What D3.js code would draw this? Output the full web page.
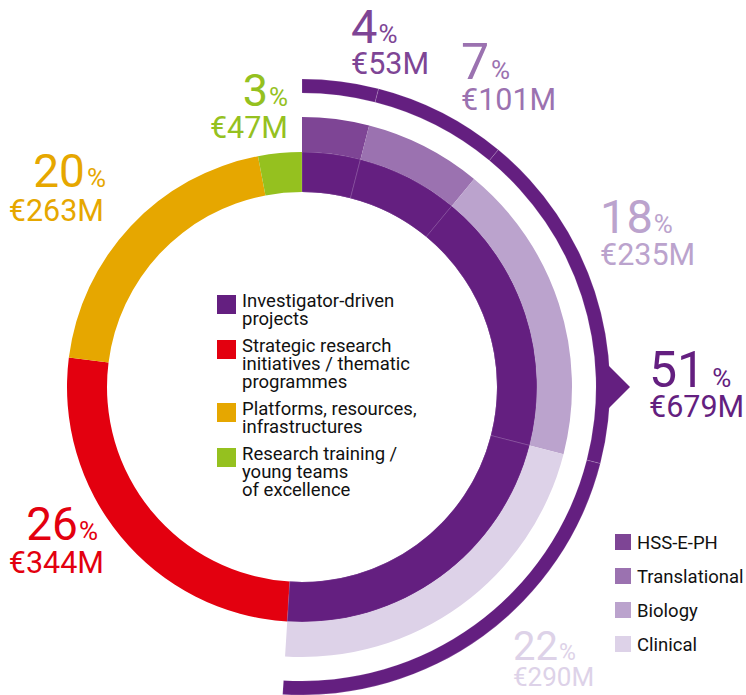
<!DOCTYPE html>
<html>
<head>
<meta charset="utf-8">
<script src="https://cdn.jsdelivr.net/npm/d3@7"></script>
<style>
  body { margin: 0; background: #fff; }
  svg { display: block; font-family: Roboto, "Noto Sans", sans-serif; }
</style>
</head>
<body>
<div id="chart-area"></div>
<script>
// main funding lines (inner ring)
var mainCategories = ["Investigator-driven projects", "Strategic research initiatives / thematic programmes",
  "Platforms, resources, infrastructures", "Research training / young teams of excellence"];
var mainLegendLines = [["Investigator-driven", "projects"], ["Strategic research", "initiatives / thematic", "programmes"],
  ["Platforms, resources,", "infrastructures"], ["Research training /", "young teams", "of excellence"]];
var mainPct = [51, 26, 20, 3];
var mainAmount = [679, 344, 263, 47];

// split of investigator-driven projects (middle ring)
var subCategories = ["HSS-E-PH", "Translational", "Biology", "Clinical"];
var subPct = [4, 7, 18, 22];
var subAmount = [53, 101, 235, 290];

var mainColors = ["#641f80", "#e3000f", "#e6a700", "#95c11f"];
var subColors = ["#7e4595", "#9b72b0", "#bba3cd", "#ddd2e8"];

//svg area
var svg_x = 746, svg_y = 695;
var cx = 302, cy = 387;

var svg = d3.select("#chart-area").append("svg")
  .attr("width", svg_x)
  .attr("height", svg_y);

var g = svg.append("g")
  .attr("transform", "translate(" + cx + "," + cy + ")");

//pies
var mainPie = d3.pie().sort(null).value(d => d);
var mainArcs = mainPie(mainPct);
var purpleEnd = mainArcs[0].endAngle;
var subPie = d3.pie().sort(null).value(d => d)
  .startAngle(0).endAngle(purpleEnd);
var subArcs = subPie(subPct);

var innerArc = d3.arc().innerRadius(195).outerRadius(235);
var middleArc = d3.arc().innerRadius(235).outerRadius(270);
var bracketArc = d3.arc().innerRadius(294).outerRadius(308);

//inner ring
g.selectAll(".main")
  .data(mainArcs)
  .enter().append("path")
    .attr("class", "main")
    .attr("d", innerArc)
    .attr("fill", (d, i) => mainColors[i]);

//faint dividers in the purple part of the inner ring
g.selectAll(".innerSub")
  .data(subArcs)
  .enter().append("path")
    .attr("class", "innerSub")
    .attr("d", innerArc)
    .attr("fill", mainColors[0])
    .attr("stroke", "rgba(255,255,255,0.25)")
    .attr("stroke-width", 0.6);

//middle ring
g.selectAll(".sub")
  .data(subArcs)
  .enter().append("path")
    .attr("class", "sub")
    .attr("d", middleArc)
    .attr("fill", (d, i) => subColors[i]);

//outer bracket with arrow
g.selectAll(".bracket")
  .data(subArcs)
  .enter().append("path")
    .attr("class", "bracket")
    .attr("d", bracketArc)
    .attr("fill", mainColors[0])
    .attr("stroke", "rgba(255,255,255,0.25)")
    .attr("stroke-width", 0.6);

var arrowR = 307;
g.append("path")
  .attr("d", "M" + (arrowR - 2) + ",-23 L" + (arrowR + 21) + ",0 L" + (arrowR - 2) + ",23 Z")
  .attr("fill", mainColors[0]);

//value labels
function pctLabel(o) {
  var t = svg.append("text")
    .attr("x", o.x)
    .attr("y", o.y)
    .attr("text-anchor", o.anchor)
    .attr("fill", o.color)
    .attr("font-size", o.big);
  t.append("tspan").text(o.pct);
  t.append("tspan").attr("dx", o.gap).attr("font-size", o.small).text("%");
  svg.append("text")
    .attr("x", o.x2 != null ? o.x2 : o.x)
    .attr("y", o.y2)
    .attr("text-anchor", o.anchor)
    .attr("fill", o.color)
    .attr("font-size", o.money)
    .text("€" + o.amount + "M");
}

var subLabelPos = [
  {x: 351, y: 43, y2: 74, big: 47, small: 26, money: 30.5, gap: 1},
  {x: 461, y: 79, y2: 110, big: 50, small: 26, money: 30.5, gap: 2},
  {x: 600, y: 233, y2: 265, big: 47, small: 26, money: 30.5, gap: 1},
  {x: 513, y: 660, y2: 686, big: 40, small: 23, money: 26, gap: 1}
];
subLabelPos.forEach((p, i) => {
  pctLabel(Object.assign({anchor: "start", color: subColors[i], pct: subPct[i], amount: subAmount[i]}, p));
});

var mainLabelPos = [
  {anchor: "start", x: 649, y: 387, y2: 417, big: 50, small: 26, money: 30.5, gap: 7},
  {anchor: "end", x: 98, x2: 104, y: 540, y2: 573, big: 46, small: 26, money: 30.5, gap: 1},
  {anchor: "end", x: 106, x2: 104, y: 187, y2: 221, big: 46, small: 26, money: 30.5, gap: 2},
  {anchor: "end", x: 288, y: 106, y2: 138, big: 45, small: 26, money: 30.5, gap: 1}
];
mainLabelPos.forEach((p, i) => {
  pctLabel(Object.assign({color: mainColors[i], pct: mainPct[i], amount: mainAmount[i]}, p));
});

//legend in the middle
var lineH = 18, itemGap = 9;
var ly = 307;
var legend = svg.append("g");
mainLegendLines.forEach((lines, i) => {
  legend.append("rect")
    .attr("x", 217)
    .attr("y", ly - 12)
    .attr("width", 19)
    .attr("height", 19)
    .attr("fill", mainColors[i]);
  var t = legend.append("text")
    .attr("x", 242)
    .attr("y", ly)
    .attr("font-size", 18.5)
    .attr("fill", "#111");
  lines.forEach((l, j) => {
    t.append("tspan").attr("x", 242).attr("dy", j ? lineH : 0).text(l);
  });
  ly += lines.length * lineH + itemGap;
});

//legend for the sub categories
var legend2 = svg.append("g");
subCategories.forEach((c, i) => {
  var y = 549 + i * 34;
  legend2.append("rect")
    .attr("x", 615)
    .attr("y", y - 15)
    .attr("width", 16)
    .attr("height", 16)
    .attr("fill", subColors[i]);
  legend2.append("text")
    .attr("x", 637)
    .attr("y", y)
    .attr("font-size", 18.5)
    .attr("fill", "#111")
    .text(c);
});
</script>
</body>
</html>
